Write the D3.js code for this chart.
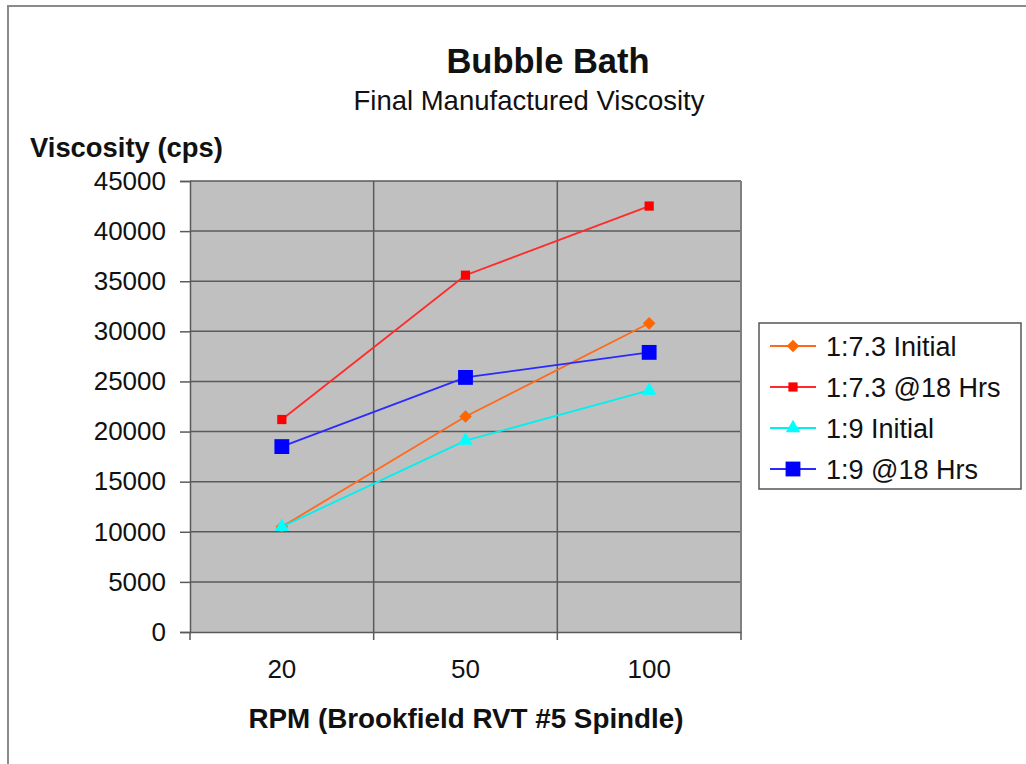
<!DOCTYPE html>
<html lang="en">
  <head>
    <title>Bubble Bath</title>
    <script src="https://d3js.org/d3.v7.min.js"></script>
    <style>
      body { margin: 0; background: #fff; }
      text { font-family: "Liberation Sans", Arial, sans-serif; fill: #111; }
    </style>
  </head>
  <body>
    <div id="chart"></div>
    <script>
      var rpm = ["20", "50", "100"];
      var yTicks = [0, 5000, 10000, 15000, 20000, 25000, 30000, 35000, 40000, 45000];
      var seriesNames = ["1:7.3 Initial", "1:7.3 @18 Hrs", "1:9 Initial", "1:9 @18 Hrs"];
      var init73 = [10500, 21500, 30800];
      var hrs73 = [21200, 35600, 42500];
      var init9 = [10500, 19100, 24100];
      var hrs9 = [18500, 25400, 27900];

      var width = 1026;
      var height = 764;
      var plot = { left: 190, right: 741, top: 181, bottom: 632 };

      // diamond drawn as a rotated square, the d3 one is too narrow
      var squareDiamond = {
        draw: function (context, size) {
          var r = Math.sqrt(size / 2);
          context.moveTo(0, -r);
          context.lineTo(r, 0);
          context.lineTo(0, r);
          context.lineTo(-r, 0);
          context.closePath();
        }
      };

      var series = [
        { name: seriesNames[0], values: init73, color: "#ff6600", line: "#ff6a1a", shape: squareDiamond, size: 80 },
        { name: seriesNames[1], values: hrs73, color: "#ff0000", line: "#ff2a2a", shape: d3.symbolSquare, size: 85 },
        { name: seriesNames[2], values: init9, color: "#00ffff", line: "#00f0f0", shape: d3.symbolTriangle, size: 90 },
        { name: seriesNames[3], values: hrs9, color: "#0000ff", line: "#2a2aff", shape: d3.symbolSquare, size: 220 }
      ];

      var svg = d3.select("#chart").append("svg")
        .attr("width", width)
        .attr("height", height);

      // outer chart frame (runs off the right and bottom)
      svg.append("rect")
        .attr("x", 8).attr("y", 6)
        .attr("width", width + 20).attr("height", height + 20)
        .attr("fill", "#fff")
        .attr("stroke", "#8a8a8a")
        .attr("stroke-width", 2);

      var x = d3.scaleBand().domain(rpm).range([plot.left, plot.right]);
      var y = d3.scaleLinear().domain([0, 45000]).range([plot.bottom, plot.top]);

      svg.append("rect")
        .attr("x", plot.left).attr("y", plot.top)
        .attr("width", plot.right - plot.left)
        .attr("height", plot.bottom - plot.top)
        .attr("fill", "#c0c0c0");

      // grid
      svg.append("g").selectAll("line")
        .data(yTicks.slice(1))
        .join("line")
        .attr("x1", plot.left).attr("x2", plot.right)
        .attr("y1", function (d) { return y(d); })
        .attr("y2", function (d) { return y(d); })
        .attr("stroke", "#5a5a5a")
        .attr("stroke-width", 1.5);

      svg.append("g").selectAll("line")
        .data(rpm.slice(1))
        .join("line")
        .attr("x1", function (d) { return x(d); })
        .attr("x2", function (d) { return x(d); })
        .attr("y1", plot.top).attr("y2", plot.bottom + 8)
        .attr("stroke", "#5a5a5a")
        .attr("stroke-width", 1.5);

      // plot border right
      svg.append("line")
        .attr("x1", plot.right).attr("x2", plot.right)
        .attr("y1", plot.top).attr("y2", plot.bottom + 8)
        .attr("stroke", "#808080").attr("stroke-width", 2);

      // y axis
      var yAxis = d3.axisLeft(y).tickValues(yTicks).tickFormat(d3.format("d")).tickSize(10).tickPadding(14);
      var gy = svg.append("g").attr("transform", "translate(" + plot.left + ",0)").call(yAxis);
      gy.select(".domain").attr("stroke", "#5a5a5a").attr("stroke-width", 1.5);
      gy.selectAll(".tick line").attr("stroke", "#5a5a5a").attr("stroke-width", 1.5);
      gy.selectAll("text")
        .attr("font-size", 26)
        .attr("fill", "#111")
        .style("font-family", "'Liberation Sans', Arial, sans-serif");

      // x axis
      var xAxis = d3.axisBottom(x).tickSize(0).tickPadding(28);
      var gx = svg.append("g").attr("transform", "translate(0," + plot.bottom + ")").call(xAxis);
      gx.select(".domain").attr("stroke", "#5a5a5a").attr("stroke-width", 1.5);
      gx.selectAll("text")
        .attr("font-size", 26)
        .attr("fill", "#111")
        .style("font-family", "'Liberation Sans', Arial, sans-serif");
      svg.append("line")
        .attr("x1", plot.left).attr("x2", plot.left)
        .attr("y1", plot.bottom).attr("y2", plot.bottom + 8)
        .attr("stroke", "#5a5a5a").attr("stroke-width", 1.5);

      // lines and markers
      var line = d3.line()
        .x(function (d, i) { return x(rpm[i]) + x.bandwidth() / 2; })
        .y(function (d) { return y(d); });

      series.forEach(function (s) {
        svg.append("path")
          .datum(s.values)
          .attr("d", line)
          .attr("fill", "none")
          .attr("stroke", s.line)
          .attr("stroke-width", 1.8);
      });
      series.forEach(function (s) {
        svg.append("g").selectAll("path")
          .data(s.values)
          .join("path")
          .attr("transform", function (d, i) {
            return "translate(" + (x(rpm[i]) + x.bandwidth() / 2) + "," + y(d) + ")";
          })
          .attr("d", d3.symbol().type(s.shape).size(s.size))
          .attr("fill", s.color);
      });

      // titles
      svg.append("text")
        .attr("x", 548).attr("y", 73)
        .attr("text-anchor", "middle")
        .attr("font-size", 34.5)
        .attr("font-weight", "bold")
        .text("Bubble Bath");
      svg.append("text")
        .attr("x", 529).attr("y", 110)
        .attr("text-anchor", "middle")
        .attr("font-size", 27.5)
        .text("Final Manufactured Viscosity");
      svg.append("text")
        .attr("x", 30).attr("y", 157)
        .attr("font-size", 27.4)
        .attr("font-weight", "bold")
        .text("Viscosity (cps)");
      svg.append("text")
        .attr("x", 466).attr("y", 728)
        .attr("text-anchor", "middle")
        .attr("font-size", 27.8)
        .attr("font-weight", "bold")
        .text("RPM (Brookfield RVT #5 Spindle)");

      // legend
      var legend = svg.append("g");
      legend.append("rect")
        .attr("x", 759).attr("y", 323)
        .attr("width", 262).attr("height", 166)
        .attr("fill", "#fff")
        .attr("stroke", "#555")
        .attr("stroke-width", 1.5);
      var item = legend.selectAll(".item")
        .data(series)
        .join("g")
        .attr("class", "item")
        .attr("transform", function (d, i) { return "translate(0," + (346 + i * 41) + ")"; });
      item.append("line")
        .attr("x1", 770).attr("x2", 816)
        .attr("stroke", function (d) { return d.line; })
        .attr("stroke-width", 1.8);
      item.append("path")
        .attr("transform", "translate(793,0)")
        .attr("d", function (d) { return d3.symbol().type(d.shape).size(d.size)(); })
        .attr("fill", function (d) { return d.color; });
      item.append("text")
        .attr("x", 826).attr("y", 9.5)
        .attr("font-size", 27)
        .text(function (d) { return d.name; });
    </script>
  </body>
</html>
